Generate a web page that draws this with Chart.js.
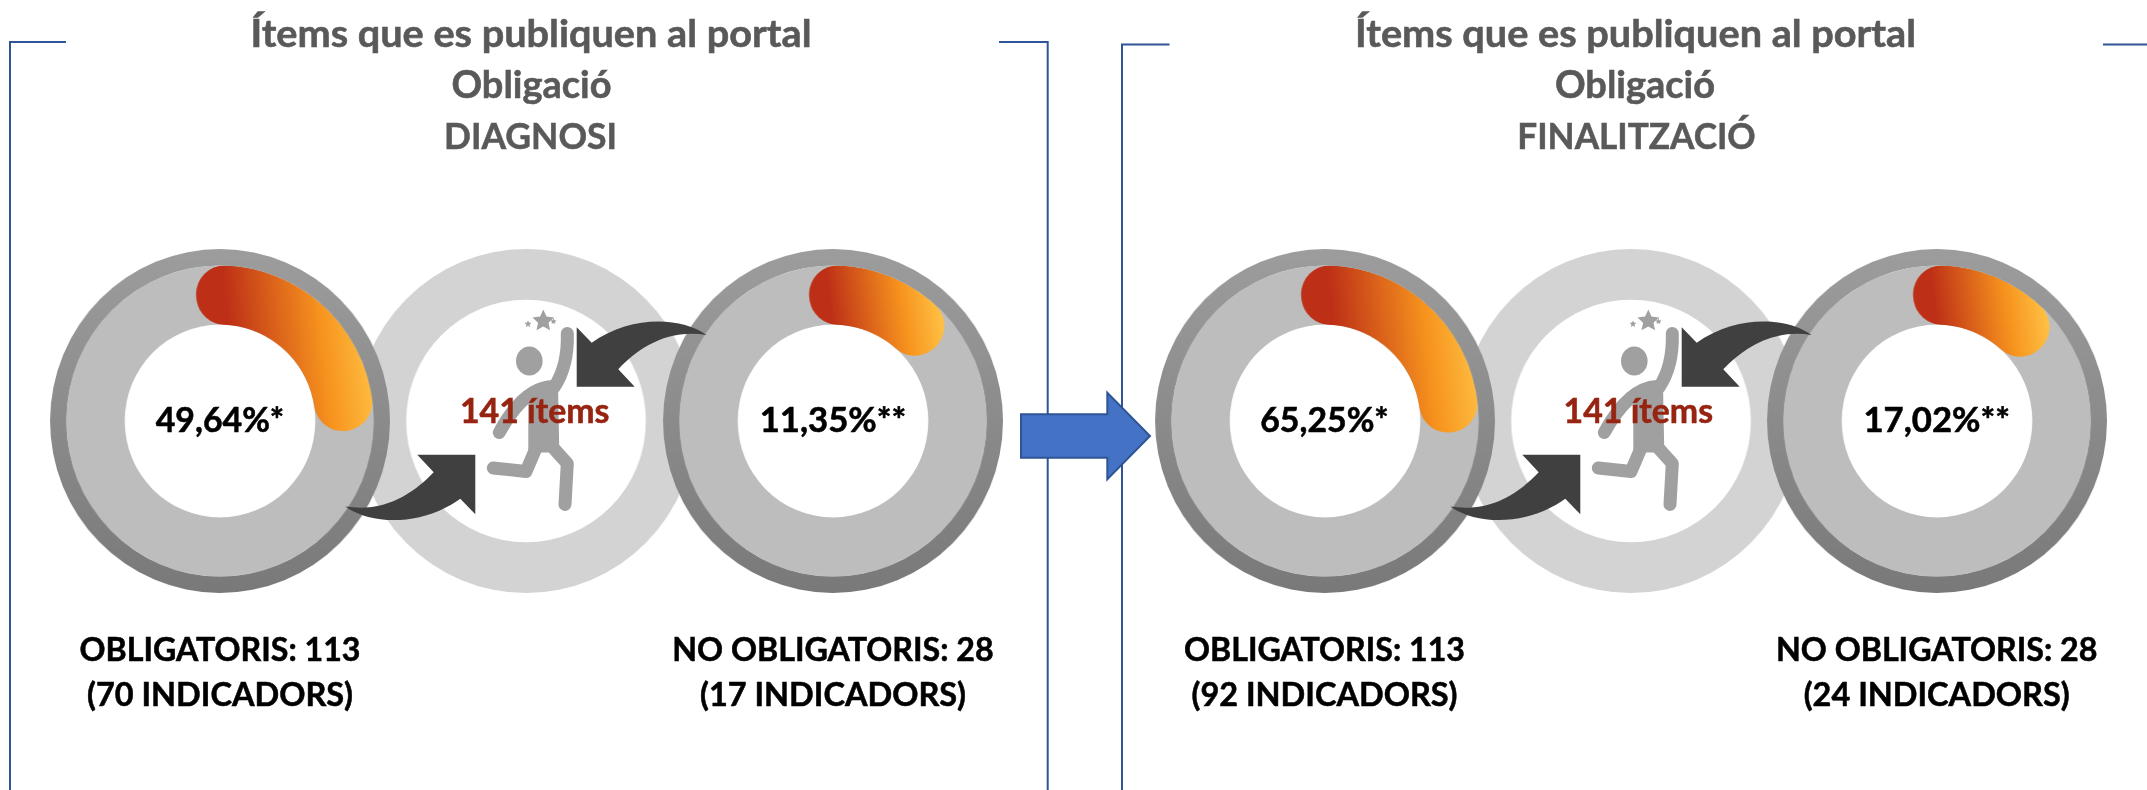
<!DOCTYPE html>
<html>
<head>
<meta charset="utf-8">
<script src="https://cdn.jsdelivr.net/npm/chart.js@4"></script>
<style>
html,body{margin:0;padding:0;background:#fff;width:2147px;height:790px;overflow:hidden}
#stage{position:relative;width:2147px;height:790px}
.ring{position:absolute;width:346px;height:346px;transform:scaleX(0.988)}
.ring canvas{display:block}
svg{position:absolute;left:0;top:0}
text{font-family:Lato,"Open Sans",sans-serif;font-weight:700;text-anchor:middle;stroke-width:0.55px;paint-order:stroke}
</style>
</head>
<body>
<div id="stage"></div>
<script>
// ---- values ----
const panelNames = ['DIAGNOSI', 'FINALITZACIÓ'];
const categories = ['OBLIGATORIS', 'NO OBLIGATORIS'];
const totalItems = 141;
const itemCounts = [113, 28];
const indicators = [[70, 17], [92, 24]];
const percentLabels = [['49,64%*', '11,35%**'], ['65,25%*', '17,02%**']];
// share of each ring's circle that the coloured band covers in the picture (caps included)
const drawnShares = [[29.3, 18.2], [29.5, 18.4]];

// ---- layout ----
const ringY = 420.5;
const leftX = [[220, 833], [1324.5, 1936.7]];
const middleX = [526, 1631];
const stage = document.getElementById('stage');
const SIZE = 346, ROT = -11;

const trackPlugin = {
  id: 'ringTrack',
  beforeDatasetDraw(chart, args, opts) {
    if (args.index !== 1 || !opts.color) return;
    const a = args.meta.data[0], c = chart.ctx;
    c.save();
    c.beginPath();
    c.arc(a.x, a.y, a.outerRadius, 0, Math.PI * 2);
    c.arc(a.x, a.y, a.innerRadius, Math.PI * 2, 0, true);
    c.closePath();
    c.fillStyle = opts.color;
    c.fill();
    c.restore();
  }
};

function mount(cx) {
  const cv = document.createElement('canvas');
  cv.width = SIZE; cv.height = SIZE;
  const holder = document.createElement('div');
  holder.className = 'ring';
  holder.style.left = (cx - SIZE / 2) + 'px';
  holder.style.top = (ringY - SIZE / 2) + 'px';
  holder.appendChild(cv);
  stage.appendChild(holder);
  return cv;
}

const baseOptions = {
  responsive: false, animation: false, devicePixelRatio: 1,
  events: [],
  layout: { padding: 0 },
  plugins: { legend: { display: false }, tooltip: { enabled: false } }
};

function middleRing(cx) {
  new Chart(mount(cx), {
    type: 'doughnut',
    data: { labels: ['ítems'], datasets: [{ data: [totalItems], backgroundColor: '#d3d3d3', borderWidth: 0 }] },
    options: { ...baseOptions, radius: 172, cutout: 122 }
  });
}

function sideRing(cx, share, label) {
  const outerGrad = (ctx) => {
    const g = ctx.chart.ctx.createLinearGradient(0, 0, 0, SIZE);
    g.addColorStop(0, '#9d9d9d');
    g.addColorStop(1, '#797979');
    return g;
  };
  const valueGrad = (ctx) => {
    if (ctx.dataIndex !== 0) return 'rgba(0,0,0,0)';
    const c = SIZE / 2;
    const endDeg = ROT + share * 3.6 - 13.4;
    const x0 = c - 27;
    const x1 = Math.min(c + 126 * Math.sin(endDeg * Math.PI / 180) + 29, c + 155);
    const g = ctx.chart.ctx.createLinearGradient(x0, 90, x1, 70);
    g.addColorStop(0, '#bd2f17');
    g.addColorStop(0.2, '#bd2f17');
    g.addColorStop(0.72, '#f7941e');
    g.addColorStop(1, '#ffc245');
    return g;
  };
  new Chart(mount(cx), {
    type: 'doughnut',
    plugins: [trackPlugin],
    data: {
      labels: [label, ''],
      datasets: [
        { data: [100], weight: 16.3, backgroundColor: outerGrad, borderWidth: 0 },
        { data: [share, 100 - share], weight: 58.7, backgroundColor: valueGrad,
          borderWidth: 0, borderRadius: [29, 0] }
      ]
    },
    options: { ...baseOptions, radius: 172, cutout: 97, rotation: ROT,
      plugins: { ...baseOptions.plugins, ringTrack: { color: '#bdbdbd' } } }
  });
}

panelNames.forEach((name, p) => {
  middleRing(middleX[p]);
  categories.forEach((cat, i) => sideRing(leftX[p][i], drawnShares[p][i], cat));
});

// ---- overlay: frames, arrows, figure and texts ----
const NS = 'http://www.w3.org/2000/svg';
const svg = document.createElementNS(NS, 'svg');
svg.setAttribute('width', 2147); svg.setAttribute('height', 790);
stage.appendChild(svg);
function el(tag, attrs, parent) {
  const e = document.createElementNS(NS, tag);
  for (const k in attrs) e.setAttribute(k, attrs[k]);
  (parent || svg).appendChild(e);
  return e;
}
function txt(s, x, y, size, color, w) {
  const t = el('text', { x, y, fill: color, stroke: color, 'font-size': size, textLength: w, lengthAdjust: 'spacingAndGlyphs' });
  t.textContent = s;
}
const blue = '#2f5597';
el('path', { d: 'M66 42H10V790M999 42H1047.7V790', fill: 'none', stroke: blue, 'stroke-width': 2 });
el('path', { d: 'M1169.5 44.5H1122V790M2103 44.5H2147', fill: 'none', stroke: blue, 'stroke-width': 2 });
el('path', { d: 'M1021 414.3H1107.3V392.7L1150 436L1107.3 479.3V457.7H1021Z', fill: '#4472c4', stroke: blue, 'stroke-width': 2 });

function star(g, x, y, r) {
  let d = '';
  for (let i = 0; i < 10; i++) {
    const rr = i % 2 ? r * 0.48 : r, a = -Math.PI / 2 + i * Math.PI / 5;
    d += (i ? 'L' : 'M') + (x + rr * Math.cos(a)).toFixed(1) + ' ' + (y + rr * Math.sin(a)).toFixed(1);
  }
  el('path', { d: d + 'Z', fill: '#a0a0a0' }, g);
}
function figure(cx) {
  const g = el('g', { transform: `translate(${cx} ${ringY})` });
  const limb = { fill: 'none', stroke: '#a0a0a0', 'stroke-linecap': 'round', 'stroke-linejoin': 'round' };
  el('ellipse', { cx: 3.3, cy: -59.5, rx: 13.3, ry: 14.5, fill: '#a0a0a0' }, g);
  star(g, 17.3, -99.5, 11.5); star(g, 2, -96.5, 3.6); star(g, 27.5, -99, 3.2);
  el('path', { d: 'M41.3 -87C42 -65 38 -48 28 -33', ...limb, 'stroke-width': 13 }, g);
  el('path', { d: 'M26 -34C6 -33 -12 -15 -26.7 12', ...limb, 'stroke-width': 13 }, g);
  el('path', { d: 'M2.3 -18L14 -36H32L33.3 32H2.3Z', fill: '#a0a0a0' }, g);
  el('path', { d: 'M10.7 26L0 51L-32.7 47.5', ...limb, 'stroke-width': 13 }, g);
  el('path', { d: 'M26 26L41.3 43L39 84', ...limb, 'stroke-width': 13 }, g);
}
function arrow(cx, flip) {
  const g = el('g', { transform: `translate(${cx} ${ringY + 0.3})` + (flip ? ' rotate(180)' : '') });
  el('path', { d: 'M50.7 -93.5V-34H108.7L92.3 -51.5C112 -72 140 -92 180.7 -85.8C155 -104 105 -106 65.7 -78Z', fill: '#404040' }, g);
}
middleX.forEach(cx => { figure(cx); arrow(cx, false); arrow(cx, true); });

const titleColor = '#595959';
const titleLine = 'Ítems que es publiquen al portal', subLine = 'Obligació';
const titleCx = [[531, 531.5, 530.5], [1635.6, 1635, 1636.5]];
const nameW = [173, 238.4];
panelNames.forEach((name, p) => {
  txt(titleLine, titleCx[p][0], 46.5, 38, titleColor, 561);
  txt(subLine, titleCx[p][1], 98, 38, titleColor, 160);
  txt(name, titleCx[p][2], 148.5, 37, titleColor, nameW[p]);
});
const itemsCx = [534.7, 1638.3];
const pctW = [128.5, 146.5];
const catW = [281, 321.5];
panelNames.forEach((name, p) => {
  txt(totalItems + ' ítems', itemsCx[p], 422.7, 34, '#962411', 149.5);
  categories.forEach((cat, i) => {
    const cx = leftX[p][i];
    txt(percentLabels[p][i], cx, 431.7, 34, '#000', pctW[i]);
    txt(cat + ': ' + itemCounts[i], cx, 661, 33, '#000', catW[i]);
    txt('(' + indicators[p][i] + ' INDICADORS)', cx, 705.7, 33, '#000', 266);
  });
});
</script>
</body>
</html>
